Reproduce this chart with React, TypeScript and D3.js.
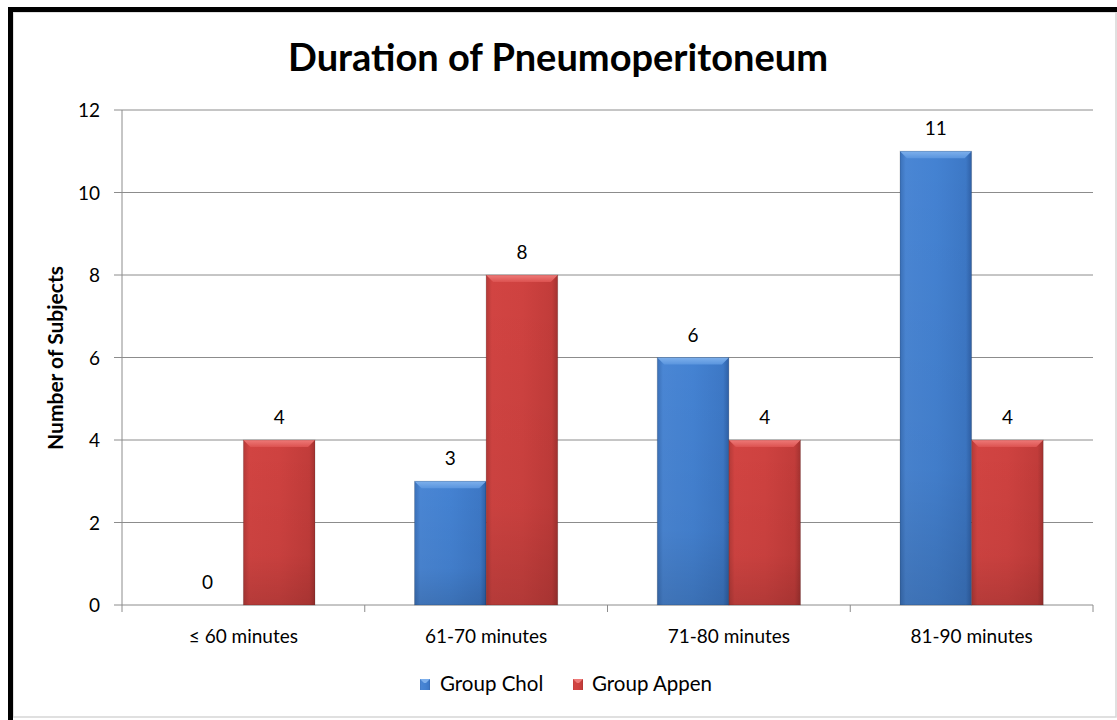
import React from "react";
import * as d3 from "d3";

const categories = ["≤ 60 minutes", "61-70 minutes", "71-80 minutes", "81-90 minutes"];
const seriesNames = ["Group Chol", "Group Appen"];
const groupChol = [0, 3, 6, 11];
const groupAppen = [4, 8, 4, 4];
const yTicks = [0, 2, 4, 6, 8, 10, 12];

const W = 1117;
const H = 720;
const FONT = "Lato, 'Open Sans', sans-serif";

export default function App() {
  const x0 = d3.scaleBand<string>().domain(categories).range([122, 1093]).paddingInner(0.41).paddingOuter(0.205);
  const x1 = d3.scaleBand<string>().domain(seriesNames).range([0, x0.bandwidth()]);
  const y = d3.scaleLinear().domain([0, 12]).range([605, 110]);
  const values = [groupChol, groupAppen];
  const grads = ["gBlue", "gRed"];
  const tops = ["gBlueTop", "gRedTop"];

  return (
    <svg width={W} height={H} style={{ position: "absolute", left: 0, top: 0, background: "#fff" }}>
      <defs>
        <linearGradient id="gBlue" x1="0" x2="1" y1="0" y2="0">
          <stop offset="0" stopColor="#3a70b8" />
          <stop offset="0.08" stopColor="#4a86d4" />
          <stop offset="0.5" stopColor="#4482d2" />
          <stop offset="0.92" stopColor="#3d78c6" />
          <stop offset="1" stopColor="#2f60a6" />
        </linearGradient>
        <linearGradient id="gRed" x1="0" x2="1" y1="0" y2="0">
          <stop offset="0" stopColor="#b43a38" />
          <stop offset="0.08" stopColor="#d24442" />
          <stop offset="0.5" stopColor="#cf4240" />
          <stop offset="0.92" stopColor="#c23c3a" />
          <stop offset="1" stopColor="#a33230" />
        </linearGradient>
        <linearGradient id="gBlueTop" x1="0" x2="0" y1="0" y2="1">
          <stop offset="0" stopColor="#7eb0ec" />
          <stop offset="1" stopColor="#5a95de" />
        </linearGradient>
        <linearGradient id="gRedTop" x1="0" x2="0" y1="0" y2="1">
          <stop offset="0" stopColor="#ee7a78" />
          <stop offset="1" stopColor="#dc5250" />
        </linearGradient>
        <linearGradient id="gShade" x1="0" x2="0" y1="0" y2="1">
          <stop offset="0" stopColor="#000" stopOpacity="0" />
          <stop offset="0.7" stopColor="#000" stopOpacity="0.04" />
          <stop offset="1" stopColor="#000" stopOpacity="0.14" />
        </linearGradient>
      </defs>

      {/* frame */}
      <rect x={13} y={12} width={W - 14} height={705} fill="#fff" stroke="#d6d6d6" strokeWidth={1.5} />
      <rect x={8} y={7} width={5} height={H - 7} fill="#000" />
      <rect x={8} y={7} width={W - 8} height={5} fill="#000" />

      {/* title */}
      <text x={558} y={71} textAnchor="middle" fontFamily={FONT} fontWeight="bold" fontSize={38} fill="#000">
        Duration of Pneumoperitoneum
      </text>

      {/* gridlines */}
      {yTicks.map((t) => (
        <g key={t}>
          <line x1={114} x2={1093} y1={y(t)} y2={y(t)} stroke="#8c8c8c" strokeWidth={1} />
          <text x={100} y={y(t) + 7} textAnchor="end" fontFamily={FONT} fontSize={19} fill="#000">
            {t}
          </text>
        </g>
      ))}
      {/* y axis */}
      <line x1={122} x2={122} y1={y(12)} y2={y(0)} stroke="#8c8c8c" strokeWidth={1} />
      {/* x ticks */}
      {categories.map((c, i) => (
        <line key={c} x1={122 + i * 242.75} x2={122 + i * 242.75} y1={605} y2={612} stroke="#8c8c8c" />
      ))}
      <line x1={1093} x2={1093} y1={605} y2={612} stroke="#8c8c8c" />

      {/* bars */}
      {categories.map((c, i) => (
        <g key={c}>
          {seriesNames.map((s, k) => {
            const v = values[k][i];
            const bx = (x0(c) as number) + (x1(s) as number);
            const bw = x1.bandwidth();
            const by = y(v);
            const bh = y(0) - by;
            const bev = Math.min(7, bh / 2);
            return (
              <g key={s}>
                {bh > 0 && (
                  <>
                    <rect x={bx} y={by} width={bw} height={bh} fill={`url(#${grads[k]})`} />
                    <rect x={bx} y={by} width={bw} height={bh} fill="url(#gShade)" />
                    <path
                      d={`M${bx},${by} L${bx + bw},${by} L${bx + bw - bev},${by + bev} L${bx + bev},${by + bev} Z`}
                      fill={`url(#${tops[k]})`}
                    />
                    <rect x={bx} y={by} width={bw} height={bh} fill="none" stroke="#000" strokeOpacity={0.15} />
                  </>
                )}
                <text x={bx + bw / 2} y={by - 16} textAnchor="middle" fontFamily={FONT} fontSize={19} fill="#000">
                  {v}
                </text>
              </g>
            );
          })}
          <text x={(x0(c) as number) + x0.bandwidth() / 2} y={643} textAnchor="middle" fontFamily={FONT} fontSize={19} fill="#000">
            {c}
          </text>
        </g>
      ))}

      {/* y axis title */}
      <text
        transform="translate(63,358) rotate(-90)"
        textAnchor="middle"
        fontFamily={FONT}
        fontWeight="bold"
        fontSize={21}
        fill="#000"
      >
        Number of Subjects
      </text>

      {/* legend */}
      <g>
        <rect x={420} y={679} width={10} height={11} fill="url(#gBlue)" />
        <path d="M420,679 L430,679 L426,683 L424,683 Z" fill="#7eb0ec" />
        <text x={440} y={691} fontFamily={FONT} fontSize={20.5} fill="#000">
          {seriesNames[0]}
        </text>
        <rect x={573} y={679} width={10} height={11} fill="url(#gRed)" />
        <path d="M573,679 L583,679 L579,683 L577,683 Z" fill="#ee7a78" />
        <text x={592} y={691} fontFamily={FONT} fontSize={20.5} fill="#000">
          {seriesNames[1]}
        </text>
      </g>
    </svg>
  );
}
